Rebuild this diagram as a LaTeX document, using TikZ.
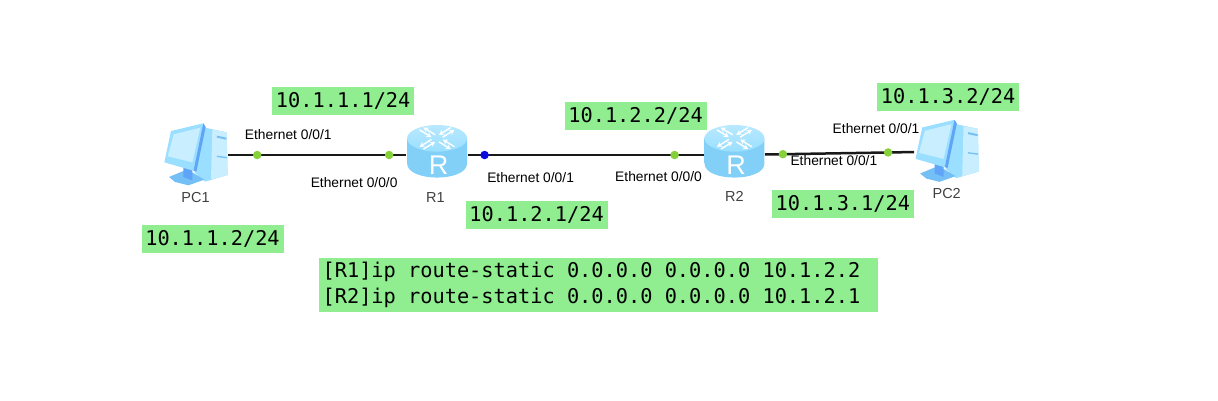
\documentclass[tikz,border=0pt]{standalone}
\usepackage{fontspec}
\setmainfont{Liberation Sans}
\setmonofont{DejaVu Sans Mono}
\usetikzlibrary{arrows.meta, positioning}

\definecolor{ipgreen}{HTML}{90EE90}
\definecolor{portgreen}{HTML}{86D13A}
\definecolor{portblue}{HTML}{0A0AE0}
\definecolor{iconlight}{HTML}{C8EEFF}
\definecolor{iconmid}{HTML}{9ADFFF}
\definecolor{icondark}{HTML}{74BFF6}
\definecolor{iconstrip}{HTML}{5FA4F6}
\definecolor{routerbody}{HTML}{82D0F8}

\tikzset{
    pcicon/.pic={
        \begin{scope}[x=0.3333pt, y=-0.3333pt, shift={(-40.5pt,40pt)}]
            \fill[iconmid] (150,38) -- (215,52) -- (218,180) -- (150,200) -- (118,172) -- cycle; % tower
            \fill[iconlight] (172,44) -- (215,52) -- (218,180) -- (168,194) -- cycle;
            \fill[icondark] (186,62) -- (214,68) -- (214,74) -- (186,68) -- cycle;
            \fill[icondark] (186,122) -- (216,126) -- (216,130) -- (186,126) -- cycle;
            \fill[icondark] (42,186) -- (85,168) -- (112,172) -- (148,194) -- (100,211) -- (60,201) -- cycle; % base
            \fill[iconstrip] (85,155) -- (112,160) -- (112,196) -- (85,186) -- cycle;
            \fill[iconmid] (48,48) -- (145,25) -- (150,36) -- (118,168) -- (28,142) -- cycle; % monitor
            \fill[iconstrip] (145,25) -- (152,36) -- (124,170) -- (116,166) -- cycle;
            \fill[iconlight] (56,58) -- (136,38) -- (112,142) -- (38,124) -- cycle; % screen
        \end{scope}
    },
    routericon/.pic={
        \begin{scope}[x=0.3333pt, y=-0.3333pt, shift={(-36.5pt,40pt)}]
            \shade[left color=routerbody, middle color=iconmid, right color=routerbody]
                (20,70) -- (20,145) .. controls (20,202) and (200,202) .. (200,145) -- (200,70) -- cycle;
            \shade[top color=iconmid!70!white, bottom color=iconmid] (110,70) circle[x radius=90, y radius=40];
            \begin{scope}[shift={(110,70)}, yscale=0.62]
                \foreach \ang in {45,135,225,315} {
                    \draw[white, line width=1.4pt, -{Stealth[length=5pt,width=5.5pt]}, rotate=\ang] (16,8) -- (66,8);
                    \draw[white, line width=1.4pt, -{Stealth[length=5pt,width=5.5pt]}, rotate=\ang] (66,-8) -- (16,-8);
                }
            \end{scope}
            \node[text=white, font=\fontsize{27}{28}\selectfont, inner sep=0pt] (letter) at (115,152) {R};
        \end{scope}
    }
}

\begin{document}
\begin{tikzpicture}[
        x=1pt, y=-1pt,
        device/.style={rectangle, inner sep=0pt, minimum height=63pt},
        devname/.style={inner sep=0pt, text height=9pt, text depth=0pt, text=black!75, font=\fontsize{14.5}{15}\selectfont},
        iflabel/.style={inner sep=0pt, text height=9pt, text depth=0pt, font=\fontsize{13.8}{14}\selectfont},
        ipbox/.style={rectangle, fill=ipgreen, inner sep=0pt, minimum width=142pt, minimum height=28pt, font=\ttfamily\fontsize{20.3}{24}\selectfont},
        codebox/.style={rectangle, fill=ipgreen, inner sep=0pt, inner xsep=4pt, text width=551pt, minimum height=54pt, align=flush left, font=\ttfamily\fontsize{20.3}{26}\selectfont},
        link/.style={draw=black!90, line width=2.5pt},
        port/.style={circle, fill=portgreen, inner sep=0pt, minimum size=8.5pt},
        portb/.style={circle, fill=portblue, inner sep=0pt, minimum size=8.5pt}
    ]
    \useasboundingbox (0,0) rectangle (1218,400);

    % Devices
    \node[device, minimum width=65pt] (pc1) at (195.5,155) {};
    \node[device, minimum width=61pt, right=178pt of pc1] (r1) {};
    \node[device, minimum width=61pt, right=236pt of r1] (r2) {};
    \node[device, minimum width=65pt, right=149pt of r2, yshift=3.5pt] (pc2) {};

    \pic (icon_pc1) at (pc1) {pcicon};
    \pic (icon_r1) at (r1) {routericon};
    \pic (icon_r2) at (r2) {routericon};
    \pic (icon_pc2) at (pc2) {pcicon};

    % Links with their ports
    \draw[link] (pc1) -- node[port, pos=0.163] (p_pc1) {} node[port, pos=0.904] (p_r1a) {} (r1);
    \draw[link] (r1) -- node[portb, pos=0.072] (p_r1b) {} node[port, pos=0.877] (p_r2a) {} (r2);
    \draw[link] (r2) -- node[port, pos=0.12] (p_r2b) {} node[port, pos=0.826] (p_pc2) {} (pc2);

    % Device names
    \node[devname, below=7pt of pc1] (name_pc1) {PC1};
    \node[devname, below=7pt of r1, xshift=-1.5pt] (name_r1) {R1};
    \node[devname, below=6pt of r2] (name_r2) {R2};
    \node[devname, below=6.5pt of pc2] (name_pc2) {PC2};

    % Interface labels
    \node[iflabel, above=10pt of p_pc1, xshift=31pt] (eth_pc1) {Ethernet 0/0/1};
    \node[iflabel, below=17.5pt of p_r1a, xshift=-35pt] (eth_r1a) {Ethernet 0/0/0};
    \node[iflabel, below=12.5pt of p_r1b, xshift=46pt] (eth_r1b) {Ethernet 0/0/1};
    \node[iflabel, below=11.5pt of p_r2a, xshift=-16pt] (eth_r2a) {Ethernet 0/0/0};
    \node[iflabel, below=-3pt of p_r2b, xshift=51pt] (eth_r2b) {Ethernet 0/0/1};
    \node[iflabel, above=13pt of p_pc2, xshift=-12pt] (eth_pc2) {Ethernet 0/0/1};

    % Addresses
    \node[ipbox, above=14.5pt of eth_pc1, xshift=55pt] (ip_r1a) {10.1.1.1/24};
    \node[ipbox, below=21.5pt of name_pc1, xshift=17pt] (ip_pc1) {10.1.1.2/24};
    \node[ipbox, above=19pt of p_r2a, xshift=-39pt] (ip_r2a) {10.1.2.2/24};
    \node[ipbox, below=18.5pt of eth_r1b, xshift=6pt] (ip_r1b) {10.1.2.1/24};
    \node[ipbox, below=23.5pt of eth_r2b, xshift=9pt] (ip_r2b) {10.1.3.1/24};
    \node[ipbox, above=13.5pt of eth_pc2, xshift=72pt] (ip_pc2) {10.1.3.2/24};

    % Static routes
    \node[codebox, below=28pt of ip_r1b, xshift=61.5pt] (routes) {[R1]ip route-static 0.0.0.0 0.0.0.0 10.1.2.2\\{}[R2]ip route-static 0.0.0.0 0.0.0.0 10.1.2.1};

\end{tikzpicture}
\end{document}
